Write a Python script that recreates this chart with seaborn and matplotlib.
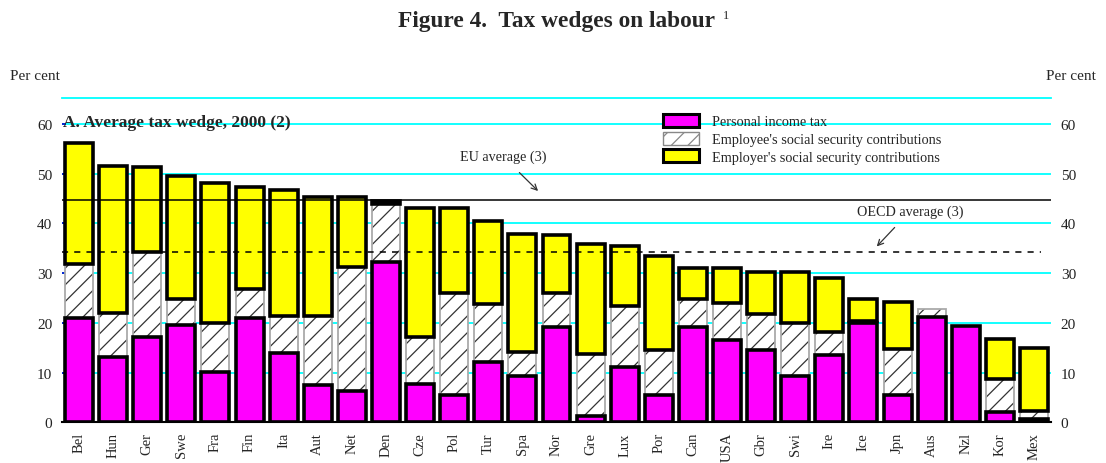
import warnings
warnings.filterwarnings('ignore')
import pandas as pd
import numpy as np
import matplotlib.pyplot as plt
import seaborn as sns
from matplotlib.patches import Patch

# Data (per cent of labour costs)
countries = ['Bel', 'Hun', 'Ger', 'Swe', 'Fra', 'Fin', 'Ita', 'Aut', 'Net', 'Den',
             'Cze', 'Pol', 'Tur', 'Spa', 'Nor', 'Gre', 'Lux', 'Por', 'Can', 'USA',
             'Gbr', 'Swi', 'Ire', 'Ice', 'Jpn', 'Aus', 'Nzl', 'Kor', 'Mex']
income_tax = [21.0, 13.1, 17.1, 19.5, 10.1, 20.9, 14.0, 7.4, 6.3, 32.2,
              7.7, 5.4, 12.1, 9.4, 19.2, 1.3, 11.1, 5.4, 19.2, 16.6,
              14.6, 9.4, 13.5, 20.0, 5.5, 21.1, 19.3, 2.1, 0.7]
employee_ssc = [10.8, 8.9, 17.2, 5.3, 9.9, 5.8, 7.3, 13.9, 24.9, 11.7,
                9.4, 20.6, 11.7, 4.7, 6.8, 12.5, 12.3, 9.2, 5.6, 7.4,
                7.1, 10.5, 4.7, 0.3, 9.2, 1.6, 0.0, 6.6, 1.6]
employer_ssc = [24.4, 29.6, 17.0, 24.8, 28.1, 20.6, 25.4, 24.0, 14.1, 0.6,
                26.0, 17.1, 16.6, 23.7, 11.6, 22.0, 12.0, 18.9, 6.3, 7.1,
                8.6, 10.4, 10.8, 4.5, 9.5, 0.0, 0.0, 8.0, 12.7]
eu_average = 44.6
oecd_average = 34.2

df = pd.DataFrame({'country': countries, 'pit': income_tax,
                   'ee': employee_ssc, 'er': employer_ssc})
df['pit_ee'] = df['pit'] + df['ee']

serif = ['Liberation Serif', 'DejaVu Serif']
cyan = '#00FFFF'

sns.set_style('white')
plt.rcParams['font.family'] = serif
plt.rcParams['hatch.linewidth'] = 0.9

fig = plt.figure(figsize=(11.06, 4.64), dpi=100)
ax = fig.add_axes([62 / 1106, 1 - 423.3 / 464, 989 / 1106, 324.3 / 464])

# gridlines
for v in [10, 20, 30, 40, 50, 60]:
    ax.axhline(v, color=cyan, lw=1.3, zorder=0)

bar_kw = dict(x='country', errorbar=None, width=0.82, ax=ax)

# personal income tax
sns.barplot(data=df, y='pit', color='#FF00FF', saturation=1,
            edgecolor='black', linewidth=2.6, zorder=3, **bar_kw)
# employee's SSC: hatch, then grey outline
sns.barplot(data=df, y='ee', bottom=df['pit'].values, color='white', saturation=1,
            edgecolor='#333333', linewidth=0, hatch='//', zorder=2, **bar_kw)
sns.barplot(data=df, y='ee', bottom=df['pit'].values, color='#aaaaaa', fill=False,
            edgecolor='#aaaaaa', linewidth=1.3, zorder=2, **bar_kw)
# employer's SSC
sns.barplot(data=df, y='er', bottom=df['pit_ee'].values, color='#FFFF00', saturation=1,
            edgecolor='black', linewidth=2.6, zorder=3, **bar_kw)
for p, v in zip(ax.containers[-1], employer_ssc):
    if v == 0:
        p.set_visible(False)
for p, v in zip(ax.containers[-2], employee_ssc):
    if v == 0:
        p.set_visible(False)

ax.set_xlim(-0.5, len(countries) - 0.5)
ax.set_ylim(0, 65.2)

# averages
ax.axhline(eu_average, color='black', lw=1.1, zorder=5)
ax.plot([-0.5, 28.2], [oecd_average, oecd_average], color='black', lw=1.1,
        ls=(0, (4, 4)), zorder=5)
ax.annotate('EU average (3)', xy=(13.46, 46.5), xytext=(12.44, 53.4),
            ha='center', va='center', fontsize=10.2,
            arrowprops=dict(arrowstyle='->', color='#333333', lw=0.9, shrinkA=6, shrinkB=0))
ax.annotate('OECD average (3)', xy=(23.39, 35.35), xytext=(24.36, 42.4),
            ha='center', va='center', fontsize=10.2,
            arrowprops=dict(arrowstyle='->', color='#333333', lw=0.9, shrinkA=6, shrinkB=0))

# axes styling
for s in ['left', 'right']:
    ax.spines[s].set_visible(False)
ax.spines['top'].set_color(cyan)
ax.spines['top'].set_linewidth(1.3)
ax.spines['bottom'].set_color('black')
ax.spines['bottom'].set_linewidth(1.5)

ax.set_yticks([0, 10, 20, 30, 40, 50, 60])
ax.set_yticklabels(['0', '10', '20', '30', '40', '50', '60'])
ax.tick_params(axis='y', left=True, right=False, labelleft=True, labelright=True,
               direction='in', length=3, width=1.2, color='#0000cc', pad=7,
               labelsize=11, labelcolor='#222222')
ax.tick_params(axis='x', bottom=False, length=0, pad=7)
ax.set_xticklabels(countries, rotation=90, fontsize=10.5, va='top', ha='center')
ax.set_xlabel('')
ax.set_ylabel('')

# legend
handles = [Patch(facecolor='#FF00FF', edgecolor='black', linewidth=2.2),
           Patch(facecolor='white', edgecolor='#888888', linewidth=1, hatch='//'),
           Patch(facecolor='#FFFF00', edgecolor='black', linewidth=2.2)]
labels = ['Personal income tax', "Employee's social security contributions",
          "Employer's social security contributions"]
fig.legend(handles, labels, loc='upper left', bbox_to_anchor=(663 / 1106, 1 - 115 / 464),
           frameon=False, fontsize=10.3, handlelength=2.5, handleheight=1.0,
           labelspacing=0.24, handletextpad=0.9, borderpad=0, borderaxespad=0)

# titles
fig.text(398 / 1106, 1 - 22 / 464, 'Figure 4.  Tax wedges on labour', ha='left', va='center',
         fontsize=16.8, fontweight='bold')
fig.text(723 / 1106, 1 - 16 / 464, '1', ha='left', va='center', fontsize=9)
fig.text(10 / 1106, 1 - 77 / 464, 'Per cent', ha='left', va='center', fontsize=11)
fig.text(1096 / 1106, 1 - 77 / 464, 'Per cent', ha='right', va='center', fontsize=11)
fig.text(63 / 1106, 1 - 127 / 464, 'A. Average tax wedge, 2000 (2)', ha='left', va='baseline',
         fontsize=12.5, fontweight='bold')

plt.savefig('out.png', dpi=100)
